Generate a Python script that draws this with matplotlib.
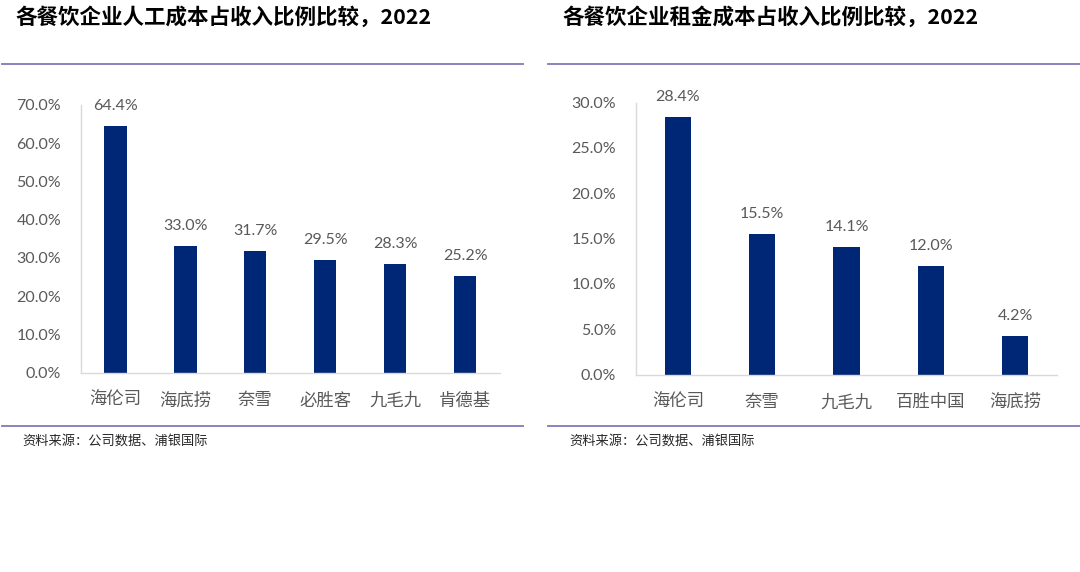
import matplotlib
matplotlib.use("Agg")
import matplotlib.pyplot as plt
from matplotlib.lines import Line2D
from matplotlib.ticker import PercentFormatter

CJK = ['Noto Sans CJK SC', 'DejaVu Sans']
NUM = ['Lato', 'DejaVu Sans']
plt.rcParams['font.family'] = CJK

# left chart: labour cost / revenue
labour_names = ['海伦司', '海底捞', '奈雪', '必胜客', '九毛九', '肯德基']
labour_vals = [64.4, 33.0, 31.7, 29.5, 28.3, 25.2]
labour_ticks = [0, 10, 20, 30, 40, 50, 60, 70]

# right chart: rent cost / revenue
rent_names = ['海伦司', '奈雪', '九毛九', '百胜中国', '海底捞']
rent_vals = [28.4, 15.5, 14.1, 12.0, 4.2]
rent_ticks = [0, 5, 10, 15, 20, 25, 30]

titles = ['各餐饮企业人工成本占收入比例比较，2022', '各餐饮企业租金成本占收入比例比较，2022']
source = '资料来源：公司数据、浦银国际'

BAR = '#002776'
GREY = '#595959'
RULE = '#8078b8'

fig = plt.figure(figsize=(10.8, 5.72), dpi=100)
W, H = 1080, 572


def px(x, y):
    return x / W, 1 - y / H


def draw_panel(rect, names, vals, ticks, bar_w):
    ax = fig.add_axes(rect)
    xs = range(len(names))
    ax.bar(xs, vals, width=bar_w, color=BAR, zorder=2)
    ax.set_xlim(-0.5, len(names) - 0.5)
    ax.set_ylim(0, ticks[-1])
    ax.set_yticks(ticks)
    ax.yaxis.set_major_formatter(PercentFormatter(decimals=1))
    ax.set_xticks(list(xs))
    ax.set_xticklabels(names, fontsize=12.5, color=GREY, family=CJK)
    for lab in ax.get_yticklabels():
        lab.set_family(NUM)
        lab.set_fontsize(11.5)
        lab.set_color(GREY)
    ax.tick_params(axis='y', length=0, pad=14)
    ax.tick_params(axis='x', length=0, pad=13.5)
    for s in ['top', 'right']:
        ax.spines[s].set_visible(False)
    for s in ['left', 'bottom']:
        ax.spines[s].set_color('#d9d9d9')
        ax.spines[s].set_linewidth(1)
    for x, v in zip(xs, vals):
        ax.annotate(f'{v:.1f}%', (x, v), xytext=(0, 14.5), textcoords='offset points',
                    ha='center', va='center', fontsize=11.5, color=GREY, family=NUM)
    return ax


draw_panel([80.5 / W, 1 - 372.7 / H, 419.5 / W, 267.7 / H],
           labour_names, labour_vals, labour_ticks, 0.32)
draw_panel([635.7 / W, 1 - 374.5 / H, 421.6 / W, 272 / H],
           rent_names, rent_vals, rent_ticks, 0.31)

# titles, rules and source notes
for x0, x1, xt, title in [(1.5, 522.7, 15, titles[0]), (548.3, 1080, 562, titles[1])]:
    fig.text(*px(xt, 17), title, fontsize=15.5, fontweight='bold', color='black',
             ha='left', va='center', family=CJK)
    for y in (64.3, 426):
        fig.add_artist(Line2D([x0 / W, x1 / W], [1 - y / H, 1 - y / H],
                              color=RULE, linewidth=1.3))
    fig.text(*px(xt + 7, 441.5), source, fontsize=9.5, color='#262626',
             ha='left', va='center', family=CJK)

fig.savefig('out.png', dpi=100)
